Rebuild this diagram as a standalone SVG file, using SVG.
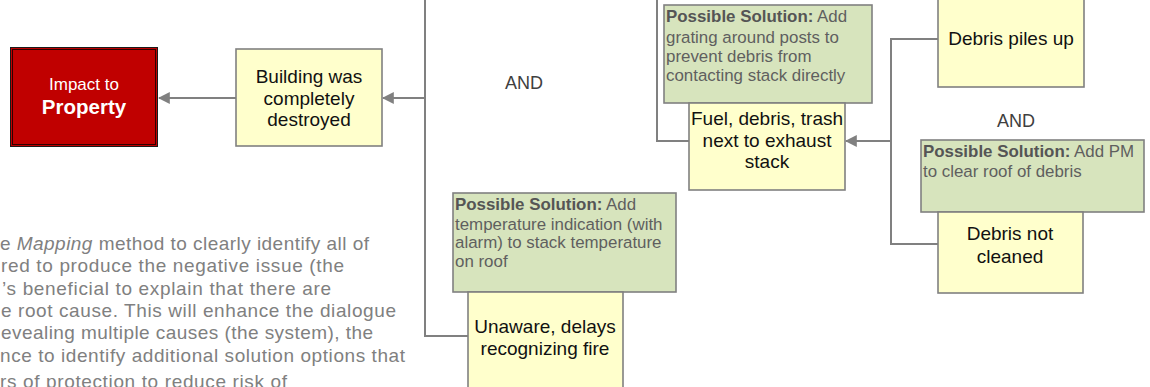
<svg xmlns="http://www.w3.org/2000/svg" width="1150" height="387" viewBox="0 0 1150 387">
<style>
.node{fill:#FFFFCC;stroke:#808080;stroke-width:1.6}
.sol{fill:#D7E4BD;stroke:#808080;stroke-width:1.6}
.nt{font-family:"Liberation Sans",Arial,sans-serif;font-size:19px;fill:#111;text-anchor:middle}
.st{font-family:"Liberation Sans",Arial,sans-serif;font-size:16.9px;fill:#5f5f5f}
.st .b{font-weight:bold;fill:#555}
.and{font-family:"Liberation Sans",Arial,sans-serif;font-size:18px;fill:#404040;text-anchor:middle}
.para{font-family:"Liberation Sans",Arial,sans-serif;font-size:19px;fill:#808080}
.conn{fill:none;stroke:#808080;stroke-width:2}
</style>
<defs>
<marker id="arr" viewBox="0 0 10 10" refX="9" refY="5" markerWidth="12" markerHeight="12" markerUnits="userSpaceOnUse" orient="auto">
<path d="M0,0 L10,5 L0,10 Z" fill="#808080"/>
</marker>
</defs>
<rect width="1150" height="387" fill="#fff"/>

<g id="connectors">
<path class="conn" d="M236,98 H159" marker-end="url(#arr)"/>
<path class="conn" d="M425,-2 V336 H469"/>
<path class="conn" d="M425,98 H383" marker-end="url(#arr)"/>
<path class="conn" d="M657,-2 V141 H689"/>
<path class="conn" d="M938,39 H891 V244 H938"/>
<path class="conn" d="M891,141 H846" marker-end="url(#arr)"/>
</g>

<g id="impact">
<rect x="10.5" y="47.5" width="147" height="99" fill="#C00000" stroke="#1a1a1a" stroke-width="1"/>
<rect x="12.5" y="49.5" width="143" height="95" fill="none" stroke="#300000" stroke-width="1"/>
<text x="84" y="90" font-family="'Liberation Sans',Arial,sans-serif" font-size="17" fill="#fff" text-anchor="middle">Impact to</text>
<text x="84" y="114" font-family="'Liberation Sans',Arial,sans-serif" font-size="20.5" font-weight="bold" fill="#fff" text-anchor="middle">Property</text>
</g>

<g id="building">
<rect class="node" x="236" y="49" width="146" height="97"/>
<text class="nt" x="309" y="83">Building was</text>
<text class="nt" x="309" y="105">completely</text>
<text class="nt" x="309" y="126">destroyed</text>
</g>

<g id="and1"><text class="and" x="524" y="89">AND</text></g>

<g id="solution1">
<rect class="sol" x="664" y="5" width="208" height="98"/>
<text class="st" x="666" y="22"><tspan class="b">Possible Solution:</tspan> Add</text>
<text class="st" x="666" y="43">grating around posts to</text>
<text class="st" x="666" y="62">prevent debris from</text>
<text class="st" x="666" y="81">contacting stack directly</text>
</g>

<g id="fuel">
<rect class="node" x="689" y="103" width="156" height="87"/>
<text class="nt" x="767" y="125">Fuel, debris, trash</text>
<text class="nt" x="767" y="147">next to exhaust</text>
<text class="nt" x="767" y="168">stack</text>
</g>

<g id="debris-piles">
<rect class="node" x="938" y="-20" width="146" height="107"/>
<text class="nt" x="1011" y="45">Debris piles up</text>
</g>

<g id="and2"><text class="and" x="1016" y="127">AND</text></g>

<g id="solution2">
<rect class="sol" x="921" y="140" width="223" height="72"/>
<text class="st" x="923" y="157"><tspan class="b">Possible Solution:</tspan> Add PM</text>
<text class="st" x="923" y="177">to clear roof of debris</text>
</g>

<g id="debris-not-cleaned">
<rect class="node" x="938" y="212" width="145" height="81"/>
<text class="nt" x="1010" y="240">Debris not</text>
<text class="nt" x="1010" y="263">cleaned</text>
</g>

<g id="solution3">
<rect class="sol" x="453" y="193" width="223" height="99"/>
<text class="st" x="455" y="210"><tspan class="b">Possible Solution:</tspan> Add</text>
<text class="st" x="455" y="230">temperature indication (with</text>
<text class="st" x="455" y="248">alarm) to stack temperature</text>
<text class="st" x="455" y="267">on roof</text>
</g>

<g id="unaware">
<rect class="node" x="468" y="292" width="155" height="96"/>
<text class="nt" x="545" y="333">Unaware, delays</text>
<text class="nt" x="545" y="355">recognizing fire</text>
</g>

<g id="paragraph">
<text class="para" x="0" y="250" textLength="369" lengthAdjust="spacing">e <tspan font-style="italic">Mapping</tspan> method to clearly identify all of</text>
<text class="para" x="1" y="272" textLength="343" lengthAdjust="spacing">red to produce the negative issue (the</text>
<text class="para" x="2" y="295" textLength="329" lengthAdjust="spacing">’s beneficial to explain that there are</text>
<text class="para" x="1" y="317" textLength="395" lengthAdjust="spacing">e root cause. This will enhance the dialogue</text>
<text class="para" x="1" y="339" textLength="372" lengthAdjust="spacing">evealing multiple causes (the system), the</text>
<text class="para" x="0" y="362" textLength="405" lengthAdjust="spacing">nce to identify additional solution options that</text>
<text class="para" x="0" y="388" textLength="287" lengthAdjust="spacing">rs of protection to reduce risk of</text>
</g>
</svg>
